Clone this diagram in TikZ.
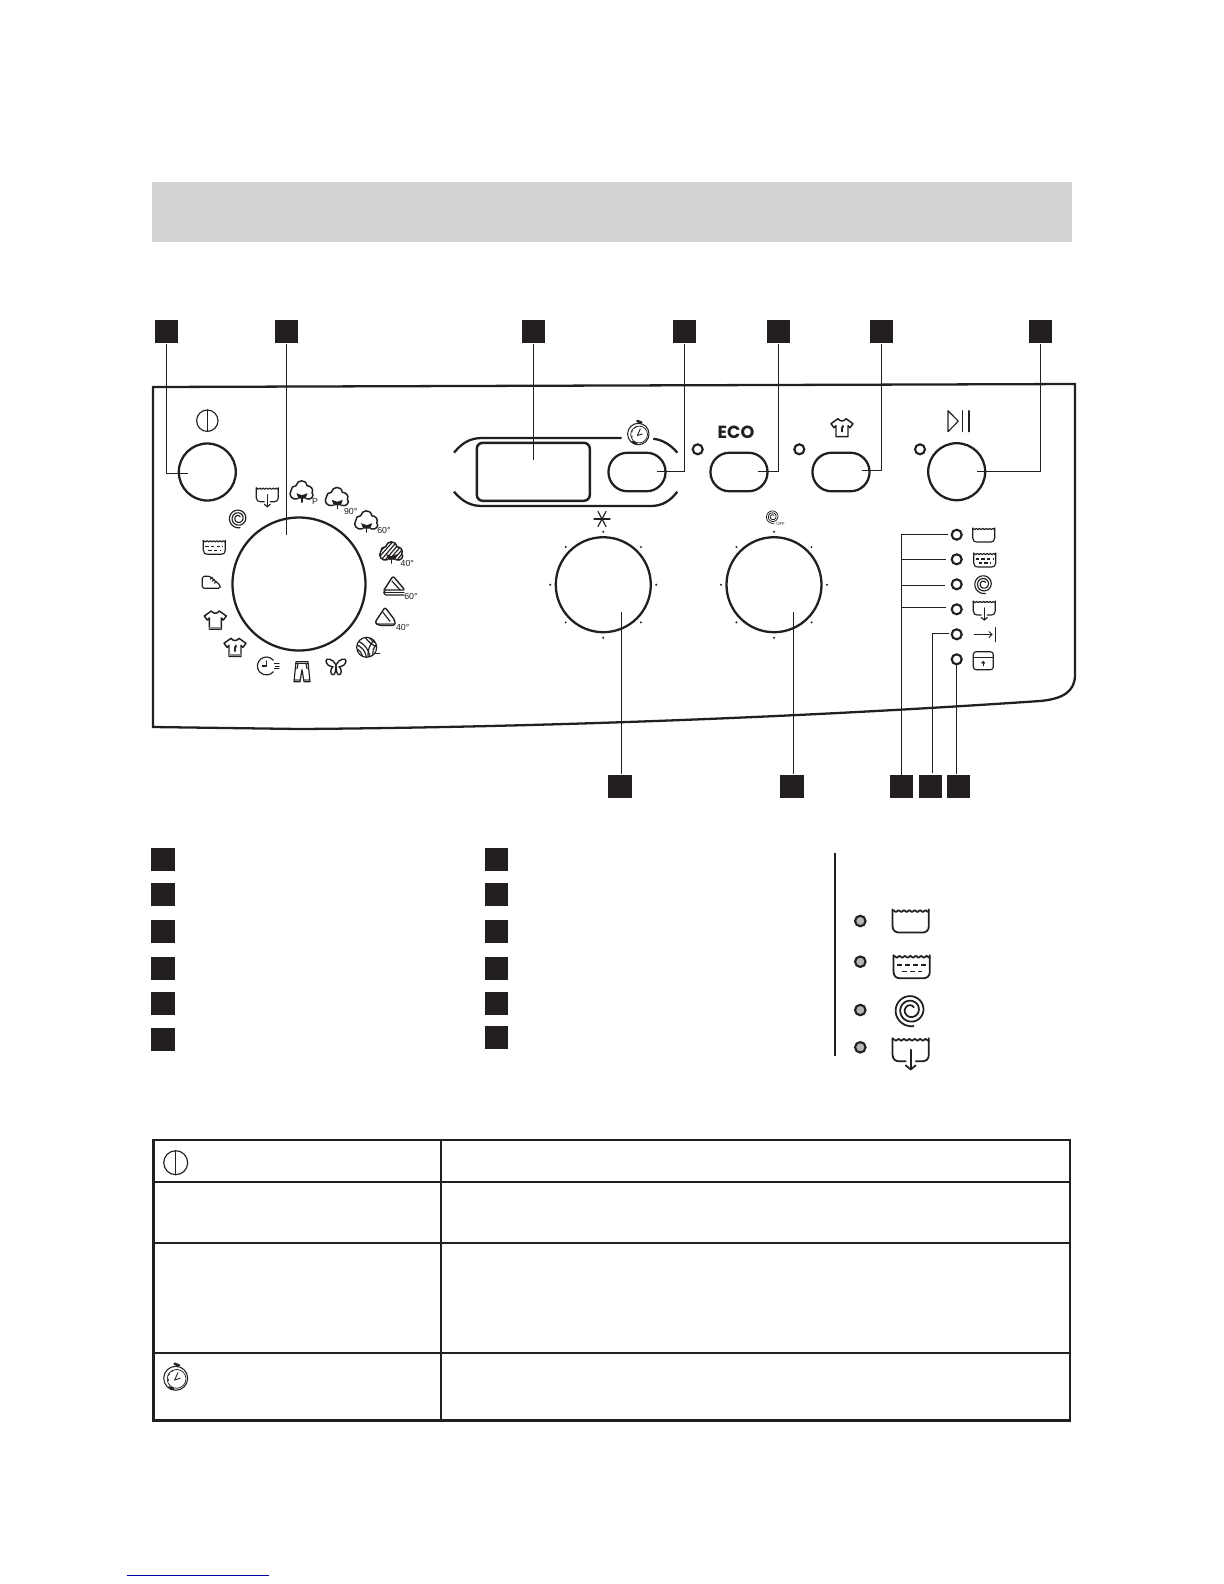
\documentclass[tikz,border=0pt]{standalone}
\usepackage{fontspec}
\setmainfont{Liberation Sans}
\newfontfamily\ecofont{Poppins}
\usetikzlibrary{positioning}
\definecolor{inkdark}{HTML}{231F20}
\definecolor{bandgrey}{HTML}{D3D3D3}
\definecolor{dotgrey}{HTML}{B5B5B5}
\definecolor{midgrey}{HTML}{8C8C8C}
\definecolor{linkblue}{HTML}{0000A0}
\tikzset{
  numbox/.style={fill=inkdark,inner sep=0,minimum size=0.23cm},
  knob/.style={circle,draw=inkdark,line width=.65pt,inner sep=0,minimum size=#1*0.01cm},
  pill/.style={draw=inkdark,line width=.65pt,rounded corners=0.19cm,inner sep=0,minimum width=0.57cm,minimum height=0.385cm},
  lamp/.style={circle,draw=inkdark,line width=.6pt,inner sep=0,minimum size=0.1cm},
  greylamp/.style={circle,draw=inkdark,fill=dotgrey,line width=.6pt,inner sep=0,minimum size=0.105cm},
  leader/.style={draw=inkdark,line width=.33pt},
  frameline/.style={draw=inkdark,line width=.65pt},
  icon/.style={draw=inkdark,line width=.33pt,line join=round,line cap=round},
  dashrow/.style={draw=inkdark,line width=.33pt,line cap=butt,dash pattern=on 1pt off .6pt},
  dialtext/.style={inner sep=0,text=inkdark,font=\fontsize{2.5}{3}\selectfont},
  powericon/.pic={
    \draw[icon] (0,0) circle [radius=10.7];
    \draw[icon] (0,-10.7) -- (0,10.7);
  },
  watchicon/.pic={
    \draw[icon,line width=.3pt] (0,0) circle [radius=10.7];
    \draw[icon,line width=.2pt] (0.8,0.5) circle [radius=8.4];
    \draw[icon,line width=.25pt] (-1,1.5) -- (2,-5);
    \draw[icon,line width=.25pt] (-1,1.5) -- (4,0);
    \draw[icon,line width=.7pt] (-1,-13) -- (3,-11.5);
    \draw[icon,line width=.25pt,line cap=butt,dash pattern=on .6pt off .9pt] (-2,-7) .. controls (-6,-6) and (-8,-1) .. (-6,4);
    \draw[icon,line width=.6pt] (-6,8) -- (-2,9.6);
  },
  tubicon/.pic={
    \draw[icon] (-11,-7) -- (-11,3) .. controls (-11,6) and (-9,7) .. (-7,7) -- (7,7) .. controls (9,7) and (11,6) .. (11,3) -- (11,-7);
    \draw[icon] plot[domain=-11:11,samples=40] (\x,{-6+0.5*sin(\x*110)});
  },
  tubdashicon/.pic={
    \draw[icon] (-11,-7) -- (-11,3) .. controls (-11,6) and (-9,7) .. (-7,7) -- (7,7) .. controls (9,7) and (11,6) .. (11,3) -- (11,-7);
    \draw[icon] plot[domain=-11:11,samples=40] (\x,{-6+0.5*sin(\x*110)});
    \draw[dashrow] (-9,-1) -- (9,-1);
    \draw[dashrow] (-6,3) -- (6,3);
  },
  spiralicon/.pic={
    \draw[icon] plot[domain=40:1000,samples=120] ({(2.4+7.2*(\x-40)/960)*cos(\x)},{-(2.4+7.2*(\x-40)/960)*sin(\x)});
  },
  drainicon/.pic={
    \draw[icon] (-11,-9) -- (-11,1) .. controls (-11,4) and (-9,5) .. (-7,5) -- (-3,5);
    \draw[icon] (3,5) -- (7,5) .. controls (9,5) and (11,4) .. (11,1) -- (11,-9);
    \draw[icon] plot[domain=-11:11,samples=40] (\x,{-8+0.5*sin(\x*110)});
    \draw[icon] (0,-2) -- (0,10);
    \draw[icon] (-3,7.5) -- (0,10) -- (3,7.5);
  },
  stopicon/.pic={
    \draw[icon,line width=.25pt] (-10,0) -- (8,0);
    \draw[icon,line width=.25pt] (5,-3) -- (8,0) -- (5,3);
    \draw[icon,line width=.25pt] (11,-7) -- (11,7);
  },
  lockicon/.pic={
    \draw[icon,rounded corners=.8pt] (-10,9) rectangle (10,-9);
    \draw[icon] (-10,-3) -- (10,-3);
    \draw[icon,line width=.45pt] (0,5) -- (0,1);
    \draw[icon] (-1.5,2.5) -- (0,1) -- (1.5,2.5);
  },
  cottonicon/.pic={
    \draw[icon,line width=.42pt] (-4,7) .. controls (-10,9) and (-14,3) .. (-11,-1) .. controls (-11,-4) and (-9,-6) .. (-6,-6) .. controls (-5,-12) and (4,-13) .. (5,-6) .. controls (9,-6) and (12,-2) .. (10,1) .. controls (13,4) and (9,9) .. (4,7);
    \fill[inkdark] (-5.5,1.5) -- (0,3.5) -- (5.5,1.5) -- (3.5,7) -- (-3.5,7) -- cycle;
    \draw[icon] (0,4) -- (0,10.5);
  },
  woolicon/.pic={
    \begin{scope}
      \clip (-4,7) .. controls (-10,9) and (-14,3) .. (-11,-1) .. controls (-11,-4) and (-9,-6) .. (-6,-6) .. controls (-5,-12) and (4,-13) .. (5,-6) .. controls (9,-6) and (12,-2) .. (10,1) .. controls (13,4) and (9,9) .. (4,7) -- cycle;
      \draw[icon] (-14,2) -- (-2,-12);
      \draw[icon] (-14,6) -- (2,-12);
      \draw[icon] (-12,9) -- (6,-12);
      \draw[icon] (-8,9) -- (10,-12);
      \draw[icon] (-4,9) -- (13,-11);
      \draw[icon] (0,9) -- (13,-6);
      \draw[icon] (4,9) -- (13,-2);
    \end{scope}
    \draw[icon,line width=.42pt] (-4,7) .. controls (-10,9) and (-14,3) .. (-11,-1) .. controls (-11,-4) and (-9,-6) .. (-6,-6) .. controls (-5,-12) and (4,-13) .. (5,-6) .. controls (9,-6) and (12,-2) .. (10,1) .. controls (13,4) and (9,9) .. (4,7);
    \fill[inkdark] (-5.5,1.5) -- (0,3.5) -- (5.5,1.5) -- (3.5,7) -- (-3.5,7) -- cycle;
    \draw[icon] (0,4) -- (0,10.5);
  },
  stackicon/.pic={
    \draw[icon,line width=.4pt,rounded corners=.6pt] (-10,4) -- (-1,-10) -- (10,3);
    \draw[icon] (-2,-5) -- (6,4);
    \draw[icon,rounded corners=.5pt] (10,4) -- (-10,4) -- (-10,9) -- (10,9);
    \draw[icon] (-10,6.5) -- (10,6.5);
  },
  foldicon/.pic={
    \fill[midgrey] (-9,6) rectangle (10,8);
    \draw[icon,line width=.4pt,rounded corners=.6pt] (-7,8) -- (-10,5) -- (0,-10) -- (10,3) -- (10,8) -- cycle;
    \draw[icon] (-2,-5) -- (5,4);
  },
  yarnicon/.pic={
    \begin{scope}
      \clip (0,0) circle [radius=10];
      \draw[icon] (-12,-7) .. controls (-5,-6) and (2,0) .. (4,12);
      \draw[icon] (-12,-3) .. controls (-6,-2) and (-1,3) .. (0,12);
      \draw[icon] (-12,1) .. controls (-7,2) and (-4,6) .. (-4,12);
      \draw[icon] (-3,-12) .. controls (1,-6) and (6,-1) .. (12,0);
      \draw[icon] (2,-12) .. controls (3,-7) and (8,-4) .. (12,-4);
      \draw[icon] (10,-10) .. controls (2,-2) and (0,4) .. (2,12);
      \draw[icon] (12,-5) .. controls (6,0) and (5,5) .. (7,10);
    \end{scope}
    \draw[icon] (0,0) circle [radius=10];
    \draw[icon] (8,6) -- (13,6);
  },
  butterflyicon/.pic={
    \draw[icon,line width=.4pt] (0,-2) .. controls (3,-8) and (10,-9) .. (10,-6) .. controls (10,-2) and (6,0) .. (3,0) .. controls (6,2) and (6,8) .. (3,8) .. controls (1,8) and (0,4) .. (0,-2);
    \draw[icon,line width=.4pt] (0,-2) .. controls (-3,-8) and (-10,-9) .. (-10,-6) .. controls (-10,-2) and (-6,0) .. (-3,0) .. controls (-6,2) and (-6,8) .. (-3,8) .. controls (-1,8) and (0,4) .. (0,-2);
  },
  jeansicon/.pic={
    \fill[midgrey] (-8,7.5) rectangle (-2,10);
    \fill[midgrey] (2,7.5) rectangle (8,10);
    \draw[icon] (-6,-10) -- (6,-10) -- (8,10) -- (2,10) -- (0,-2) -- (-2,10) -- (-8,10) -- cycle;
    \draw[icon] (-6,-8) -- (6,-8);
    \draw[icon] (-4,-8) -- (-5,-3);
    \draw[icon] (4,-8) -- (5,-3);
  },
  quickicon/.pic={
    \draw[icon] (5,-5.8) arc [start angle=-40,end angle=-320,radius=9];
    \draw[icon] (-2,-5) -- (-2,0) -- (-6,0);
    \draw[icon,line width=.22pt] (6,-2.3) -- (11,-2.3);
    \draw[icon,line width=.22pt] (7,0) -- (11,0);
    \draw[icon,line width=.22pt] (6,2.3) -- (11,2.3);
  },
  shirticon/.pic={
    \draw[icon,line width=.42pt] (-4,-9) .. controls (-2,-6) and (2,-6) .. (4,-9) -- (11,-4) -- (8,0) -- (6,-2) -- (6,9) -- (-6,9) -- (-6,-2) -- (-8,0) -- (-11,-4) -- cycle;
  },
  shirtband/.pic={
    \fill[midgrey] (-6,6.5) rectangle (6,8.7);
  },
  shirtspot/.pic={
    \fill[inkdark] (1,-3) -- (2,-1) -- (0,2) -- (-1,0) -- cycle;
    \draw[icon] (0,1) -- (0,4);
  },
  shoeicon/.pic={
    \draw[icon,rounded corners=.5pt] (-9,-6) -- (-1,-6) -- (3,-2) -- (9,3) -- (9,6) -- (-9,6) -- cycle;
    \draw[icon] (-1,-3) -- (1,-5);
    \draw[icon] (1,-1) -- (3,-3);
    \draw[icon] (3,1) -- (5,-1);
  }
}
\begin{document}
\begin{tikzpicture}[x=0.01cm,y=-0.01cm]
  \useasboundingbox (0,0) rectangle (1224,1584);
  % grey band and panel
  \fill[bandgrey] (152,182) rectangle (1072,242);
  \draw[frameline] (153,387) -- (1075,384) -- (1075,675) .. controls (1075,692) and (1062,699) .. (1040,701) .. controls (820,716) and (560,727) .. (300,729) -- (153,727) -- cycle;

  % knobs and buttons
  \node[knob=57] (powerknob) at (207.3,472) {};
  \node[knob=133] (dial) at (299,584) {};
  \node[knob=95] (fanknob) at (603.3,584.7) {};
  \node[knob=95] (spinknob) at (774,584.7) {};
  \node[knob=57] (startknob) at (956.7,471.7) {};
  \node[pill] (timerbtn) at (637,472) {};
  \node[pill] (ecobtn) at (739,472) {};
  \node[pill] (shirtbtn) at (841,472) {};
  \node[draw=inkdark,line width=.7pt,rounded corners=0.06cm,inner sep=0,minimum width=1.13cm,minimum height=0.58cm] (display) at (533.3,471.8) {};

  % display bracket
  \draw[frameline] (454,452.7) .. controls (462,443) and (470,438) .. (482,438) -- (621.7,438);
  \draw[frameline] (653.3,438.7) .. controls (663,440) and (671,445) .. (677.3,452.7);
  \draw[frameline] (454,491.7) .. controls (462,501) and (470,506) .. (482,506) -- (651,506) .. controls (663,506) and (671,500) .. (677.3,491.7);

  % lamps
  \node[lamp] (lampeco) at (697.7,449.3) {};
  \node[lamp] (lampshirt) at (799.3,449.3) {};
  \node[lamp] (lampstart) at (920,449.3) {};
  \node[lamp] (lampwash) at (956.7,534.7) {};
  \node[lamp] (lamprinse) at (956.7,559.3) {};
  \node[lamp] (lampspin) at (956.7,584.3) {};
  \node[lamp] (lampdrain) at (956.7,609.3) {};
  \node[lamp] (lampend) at (956.7,634.3) {};
  \node[lamp] (lampdoor) at (956.7,659.3) {};

  % top and bottom number boxes
  \node[numbox] (boxa) at (166.7,331.5) {};
  \node[numbox] (boxb) at (286.7,331.5) {};
  \node[numbox] (boxc) at (533.3,331.5) {};
  \node[numbox] (boxd) at (684.8,331.5) {};
  \node[numbox] (boxe) at (778.8,331.5) {};
  \node[numbox] (boxf) at (881.6,331.5) {};
  \node[numbox] (boxg) at (1040.6,331.5) {};
  \node[numbox] (boxh) at (620,786.5) {};
  \node[numbox] (boxi) at (792,786.5) {};
  \node[numbox] (boxj) at (901,786.5) {};
  \node[numbox] (boxk) at (930.5,786) {};
  \node[numbox] (boxl) at (958,786.5) {};

  % list number boxes
  \node[numbox] (lista) at (163,859.5) {};
  \node[numbox] (listb) at (163,894.5) {};
  \node[numbox] (listc) at (163,931) {};
  \node[numbox] (listd) at (163,968.5) {};
  \node[numbox] (liste) at (163,1003.5) {};
  \node[numbox] (listf) at (163,1039) {};
  \node[numbox] (listg) at (496.5,859.5) {};
  \node[numbox] (listh) at (496.5,894.5) {};
  \node[numbox] (listi) at (496.5,931) {};
  \node[numbox] (listj) at (496.5,968.5) {};
  \node[numbox] (listk) at (496.5,1003.5) {};
  \node[numbox] (listl) at (496.5,1037.5) {};

  % leader ends
  \coordinate (tippower) at (188,473.6);
  \coordinate (tipdial) at (286.7,535);
  \coordinate (tipdisplay) at (533.3,460);
  \coordinate (tiptimer) at (656.7,471.4);
  \coordinate (tipeco) at (758.3,471.4);
  \coordinate (tipshirt) at (862,470.4);
  \coordinate (tipstart) at (977,471.4);
  \coordinate (tipfan) at (621.3,612.3);
  \coordinate (tipspin) at (793.3,612.3);
  \coordinate (tipwash) at (948.3,534.6);
  \coordinate (tiprinse) at (946,559.4);
  \coordinate (tipturn) at (945,585.4);
  \coordinate (tipdrain) at (946,607.4);
  \coordinate (tipend) at (949,633.4);
  \coordinate (tipdoor) at (956.5,664.7);
  \coordinate (treefoot) at (901.6,775);
  \coordinate (endfoot) at (932.4,772.7);

  % leaders
  \draw[leader] (boxa.south) |- (tippower);
  \draw[leader] (boxb.south) -- (tipdial);
  \draw[leader] (boxc.south) -- (tipdisplay);
  \draw[leader] (boxd.south) |- (tiptimer);
  \draw[leader] (boxe.south) |- (tipeco);
  \draw[leader] (boxf.south) |- (tipshirt);
  \draw[leader] (boxg.south) |- (tipstart);
  \draw[leader] (tipfan) -- (tipfan |- boxh.north);
  \draw[leader] (tipspin) -- (tipspin |- boxi.north);
  \draw[leader] (tipwash) -| (treefoot);
  \draw[leader] (tiprinse) -- (tiprinse -| treefoot);
  \draw[leader] (tipturn) -- (tipturn -| treefoot);
  \draw[leader] (tipdrain) -- (tipdrain -| treefoot);
  \draw[leader] (tipend) -| (endfoot);
  \draw[leader] (tipdoor) -- (tipdoor |- boxl.north);

  % knob ticks
  \fill[inkdark] (603.3,531.7) circle [radius=1.1];
  \fill[inkdark] (640.9,547) circle [radius=1.1];
  \fill[inkdark] (656.3,584.7) circle [radius=1.1];
  \fill[inkdark] (640.9,622.4) circle [radius=1.1];
  \fill[inkdark] (603.3,637.7) circle [radius=1.1];
  \fill[inkdark] (565.7,622.4) circle [radius=1.1];
  \fill[inkdark] (550.3,584.7) circle [radius=1.1];
  \fill[inkdark] (565.7,547) circle [radius=1.1];
  \fill[inkdark] (774,531.7) circle [radius=1.1];
  \fill[inkdark] (811.6,547) circle [radius=1.1];
  \fill[inkdark] (827,584.7) circle [radius=1.1];
  \fill[inkdark] (811.6,622.4) circle [radius=1.1];
  \fill[inkdark] (774,637.7) circle [radius=1.1];
  \fill[inkdark] (736.4,622.4) circle [radius=1.1];
  \fill[inkdark] (721,584.7) circle [radius=1.1];
  \fill[inkdark] (736.4,547) circle [radius=1.1];

  % symbols over the buttons
  \pic at (207.3,420.7) {powericon};
  \pic at (638.3,434) {watchicon};
  \node[inner sep=0,text=inkdark,font=\ecofont\bfseries\fontsize{5}{6}\selectfont] (ecolabel) at (736,432) {ECO};
  \pic at (842,427.7) {shirticon};
  \pic at (842,427.7) {shirtspot};
  \draw[icon] (948,410.7) -- (958.3,421.2) -- (948,431.7) -- cycle;
  \draw[icon] (962.3,410.7) -- (962.3,431.7);
  \draw[icon] (969,410.7) -- (969,431.7);
  \draw[icon] (594,519) -- (610,519);
  \draw[icon] (598,511.5) -- (606,526.5);
  \draw[icon] (606,511.5) -- (598,526.5);
  \begin{scope}[icon/.append style={line width=.22pt}]
    \pic[scale=.7] at (772.7,516.7) {spiralicon};
  \end{scope}
  \node[dialtext,font=\fontsize{1.2}{2}\selectfont] (offlabel) at (780.5,524) {OFF};

  % symbols round the dial
  \pic at (267.3,496.7) {drainicon};
  \pic at (302,491.7) {cottonicon};
  \node[dialtext] (lblp) at (315,501.7) {P};
  \pic at (337.3,498.3) {cottonicon};
  \node[dialtext] (lblninety) at (350.7,511) {90°};
  \pic at (366.7,521.7) {cottonicon};
  \node[dialtext] (lblsixty) at (384,530) {60°};
  \pic at (391.7,552.7) {woolicon};
  \node[dialtext] (lblforty) at (407.3,563) {40°};
  \pic at (394,586) {stackicon};
  \node[dialtext] (lblsynsixty) at (411,596) {60°};
  \pic at (385,617.3) {foldicon};
  \node[dialtext] (lblsynforty) at (402.7,627.3) {40°};
  \pic at (366.7,647.3) {yarnicon};
  \pic at (336,666.7) {butterflyicon};
  \pic at (302,671.7) {jeansicon};
  \pic at (268.3,666) {quickicon};
  \pic at (235,647.3) {shirticon};
  \pic at (235,647.3) {shirtspot};
  \pic at (235,647.3) {shirtband};
  \pic at (215.3,620) {shirticon};
  \pic at (215.3,620) {shirtband};
  \pic at (211.3,582.3) {shoeicon};
  \pic at (214.3,547.3) {tubdashicon};
  \pic at (238.3,518.3) {spiralicon};

  % symbols by the lamps
  \pic at (983.7,535) {tubicon};
  \pic at (984.7,560) {tubdashicon};
  \pic at (983.7,584) {spiralicon};
  \pic at (984.3,610) {drainicon};
  \pic at (984,634.6) {stopicon};
  \pic at (983.3,660.7) {lockicon};

  % legend
  \draw[frameline] (835,853.3) -- (835,1056);
  \node[greylamp] (legwash) at (860.3,921) {};
  \node[greylamp] (legrinse) at (860.3,961.7) {};
  \node[greylamp] (legspin) at (860.3,1010) {};
  \node[greylamp] (legdrain) at (860.3,1047.3) {};
  \begin{scope}[icon/.append style={line width=.5pt},dashrow/.append style={line width=.45pt,dash pattern=on 1.5pt off .8pt}]
    \pic[scale=1.65] at (910.7,921) {tubicon};
    \pic[scale=1.65] at (911.7,966.7) {tubdashicon};
    \pic[scale=1.7] at (910.7,1010) {spiralicon};
    \pic[scale=1.65] at (910.7,1053) {drainicon};
  \end{scope}

  % table
  \draw[frameline] (153.5,1140) rectangle (1070,1420.5);
  \draw[frameline] (441,1140) -- (441,1420.5);
  \draw[frameline] (153.5,1181.7) -- (1070,1181.7);
  \draw[frameline] (153.5,1242.7) -- (1070,1242.7);
  \draw[frameline] (153.5,1352.7) -- (1070,1352.7);
  \pic[scale=1.12] at (175.7,1162.7) {powericon};
  \pic[scale=1.12] at (175.7,1378.3) {watchicon};

  % link rule at the foot
  \draw[linkblue,line width=.4pt] (126.8,1575.3) -- (269,1575.3);
\end{tikzpicture}
\end{document}
